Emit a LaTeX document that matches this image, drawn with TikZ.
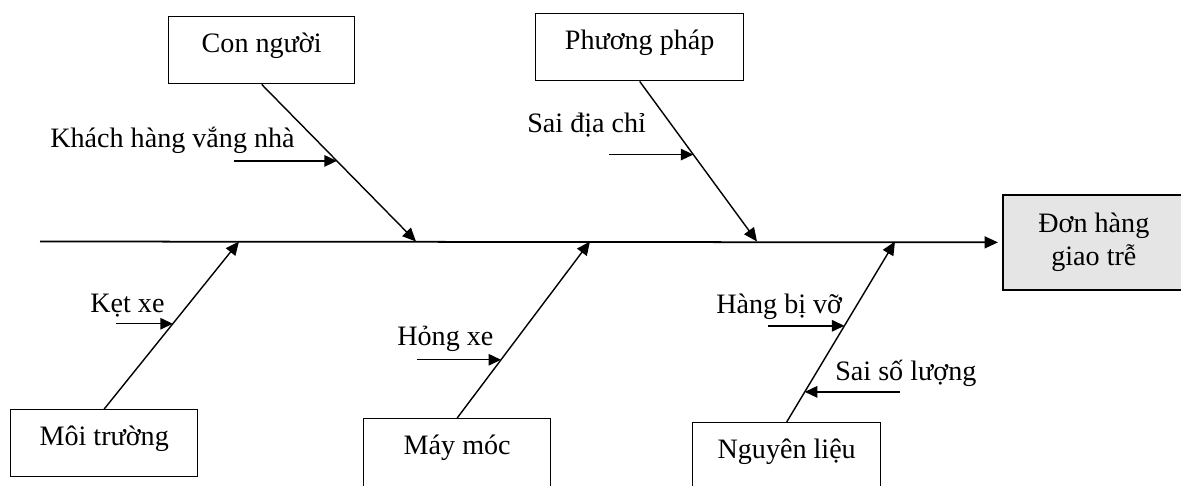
\documentclass[tikz,border=0pt]{standalone}
\usepackage{fontspec}
\setmainfont{Liberation Serif}
\usetikzlibrary{arrows.meta,calc}

\begin{document}
\begin{tikzpicture}[x=0.02cm,y=-0.02cm,
  every node/.style={font=\fontsize{16}{18.8}\selectfont},
  cause/.style={draw, line width=0.8pt, anchor=north west, minimum height=1.34cm, text height=0.45cm, text depth=0.35cm},
  bone/.style={line width=0.8pt, -{Triangle[length=0.27cm,width=0.24cm]}},
  sub/.style={line width=0.8pt, -{Triangle[length=0.25cm,width=0.23cm]}},
  why/.style={anchor=base west, inner sep=0pt}]
\useasboundingbox (0,0) rectangle (1181,485);
\clip (0,0) rectangle (1181,485);

% head and spine
\node[draw, line width=1pt, fill=black!10, anchor=north west, minimum width=3.64cm, minimum height=1.9cm, align=center] (eff) at (1002,194) {Đơn hàng\\giao trễ};
\coordinate (s0) at (40,241.5);
\draw[line width=1pt, -{Triangle[length=0.27cm,width=0.24cm]}] (s0) -- ([xshift=-0.08cm]eff.west);

% causes
\node[cause, minimum width=3.72cm] (cn) at (168,16) {Con người};
\node[cause, minimum width=4.16cm] (pp) at (535,13) {Phương pháp};
\node[cause, minimum width=3.74cm] (mt) at (10,409) {Môi trường};
\node[cause, minimum width=3.74cm, minimum height=1.5cm, text depth=0.51cm] (mm) at (363,418) {Máy móc};
\node[cause, minimum width=3.76cm, minimum height=1.5cm, text depth=0.51cm] (nl) at (692,422) {Nguyên liệu};

\coordinate (s1) at (239,241.5);
\coordinate (s2) at (416,241.5);
\coordinate (s3) at (590,241.5);
\coordinate (s4) at (757,241.5);
\coordinate (s5) at (895,241.5);
\draw[bone] (mt.north) -- (s1);
\draw[bone] (cn.south) -- (s2);
\draw[bone] (mm.north) -- (s3);
\draw[bone] (pp.south) -- (s4);
\draw[bone] (nl.north) -- (s5);

% sub causes
\node[why] (t1) at (50,147) {Khách hàng vắng nhà};
\node[why] (t2) at (527,132) {Sai địa chỉ};
\node[why] (t3) at (90,312) {Kẹt xe};
\node[why] (t4) at (397,345) {Hỏng xe};
\node[why] (t5) at (716,313) {Hàng bị vỡ};
\node[why] (t6) at (835,380) {Sai số lượng};

\coordinate (a1) at ($(cn.south)!0.487!(s2)$);
\coordinate (a2) at ($(pp.south)!0.457!(s4)$);
\coordinate (a3) at ($(mt.north)!0.509!(s1)$);
\coordinate (a4) at ($(mm.north)!0.33!(s3)$);
\coordinate (a5) at ($(nl.north)!0.533!(s5)$);
\coordinate (a6) at ($(nl.north)!0.167!(s5)$);
\coordinate (b1) at (234,0);
\coordinate (b2) at (609,0);
\coordinate (b3) at (116,0);
\coordinate (b4) at (417,0);
\coordinate (b5) at (768,0);
\coordinate (b6) at (900,0);
\draw[sub] (a1 -| b1) -- (a1);
\draw[sub] (a2 -| b2) -- (a2);
\draw[sub] (a3 -| b3) -- (a3);
\draw[sub] (a4 -| b4) -- (a4);
\draw[sub] (a5 -| b5) -- (a5);
\draw[sub] (a6 -| b6) -- (a6);
\end{tikzpicture}
\end{document}
